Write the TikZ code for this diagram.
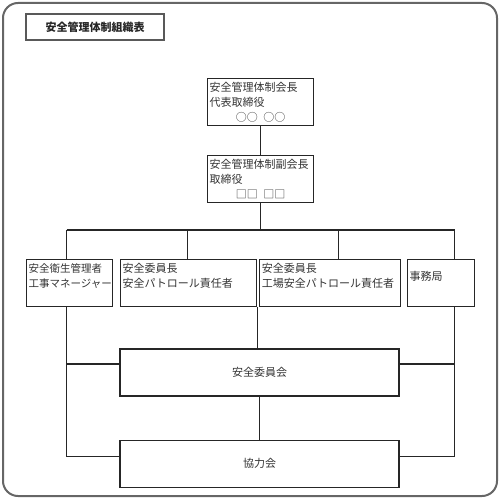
\documentclass[tikz,border=0pt]{standalone}
\usepackage{fontspec}
\setmainfont{Noto Sans CJK JP}
\usetikzlibrary{positioning}

\begin{document}
\begin{tikzpicture}[
    x=1pt, y=-1pt,
    frame/.style={draw=black!60, line width=2pt, rounded corners=15pt},
    titlebox/.style={draw=black!65, line width=1.8pt, minimum width=138pt, minimum height=26pt, font=\bfseries\fontsize{11}{13}\selectfont, text=black!85},
    unit/.style={draw=black!85, line width=1.2pt, anchor=north west, align=left, inner xsep=2pt, inner ysep=2pt, minimum height=47pt, font=\fontsize{11}{15}\selectfont, text=black!80},
    council/.style={draw=black!85, line width=1.2pt, minimum width=279pt, minimum height=47pt, font=\fontsize{11}{13}\selectfont, text=black!80},
    link/.style={draw=black!85, line width=1.2pt}
]
    \useasboundingbox (0,0) rectangle (500,500);
    \draw[frame] (3,3) rectangle (497,496);

    % Title
    \node[titlebox] (title) at (95,27) {安全管理体制組織表};

    % Top management
    \node[unit, text width=102pt] (pres) at (207,78) {安全管理体制会長\\代表取締役\\\makebox[\linewidth]{○○\hspace{0.5em}○○}};
    \node[unit, text width=102pt, below=29pt of pres] (vice) {安全管理体制副会長\\取締役\\\makebox[\linewidth]{□□\hspace{0.5em}□□}};

    % Staff row
    \node[unit, text width=82pt, font=\fontsize{10.5}{15}\selectfont] (eisei) at (26,259) {安全衛生管理者\\工事マネージャー\\\mbox{}};
    \node[unit, text width=132pt] (patrol) at (120,259) {安全委員長\\安全パトロール責任者\\\mbox{}};
    \node[unit, text width=137pt, right=2pt of patrol] (koujou) {安全委員長\\工場安全パトロール責任者\\\mbox{}};
    \node[unit, text width=63pt] (jimu) at (407,259) {事務局\\\mbox{}};

    % Councils
    \node[council] (iinkai) at (259.5,372.5) {安全委員会};
    \node[council, below=43pt of iinkai] (kyoryoku) {協力会};

    % Connectors
    \coordinate (bus) at (0,230);
    \coordinate (leftline) at ([xshift=-3pt]eisei.south);
    \coordinate (rightline) at ([xshift=13.5pt]jimu.south);
    \draw[link] (pres) -- (vice);
    \draw[link] (vice.south) -- (vice.south |- bus);
    \draw[link] ([xshift=-3pt]eisei.north |- bus) -- ([xshift=13.5pt]jimu.north |- bus);
    \foreach \n/\dx in {eisei/-3, patrol/-1, koujou/8.5, jimu/13.5}
        \draw[link] ([xshift=\dx pt]\n.north) -- ([xshift=\dx pt]\n.north |- bus);

    \draw[link] (patrol.south east) -- (patrol.south east |- iinkai.north);
    \draw[link] (iinkai) -- (kyoryoku);

    % Side lines to the councils
    \draw[link] (leftline) |- ([yshift=7.5pt]kyoryoku.west);
    \draw[link] ([yshift=8.5pt]iinkai.west) -- ([yshift=8.5pt]iinkai.west -| leftline);
    \draw[link] (rightline) |- ([yshift=7.5pt]kyoryoku.east);
    \draw[link] ([yshift=8.5pt]iinkai.east) -- ([yshift=8.5pt]iinkai.east -| rightline);
\end{tikzpicture}
\end{document}
